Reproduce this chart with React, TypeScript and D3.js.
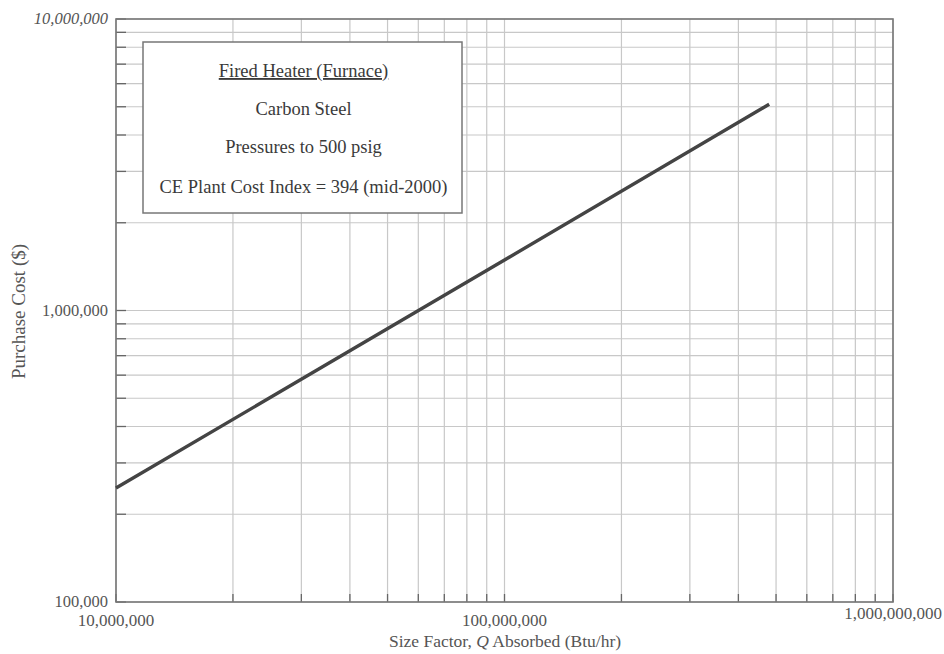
import React from "react";
import * as d3 from "d3";

const lineQ = [1e7, 1e8, 4.8e8];
const lineCost = [2.46e5, 1.49e6, 5.1e6];
const xTickLabels = ["10,000,000", "100,000,000", "1,000,000,000"];
const xTickValues = [1e7, 1e8, 1e9];
const yTickLabels = ["100,000", "1,000,000", "10,000,000"];
const yTickValues = [1e5, 1e6, 1e7];
const legendLines = ["Fired Heater (Furnace)", "Carbon Steel", "Pressures to 500 psig", "CE Plant Cost Index = 394 (mid-2000)"];

const W = 944, H = 654;
const L = 116, R = 893, T = 19, B = 602;
const FONT = "'Liberation Serif', 'DejaVu Serif', serif";

function minorTicks(lo: number, hi: number): number[] {
  const out: number[] = [];
  for (let d = lo; d < hi; d *= 10) {
    for (let k = 1; k <= 10; k++) out.push(d * k);
  }
  return Array.from(new Set(out));
}

export default function App() {
  const x = d3.scaleLog().domain([1e7, 1e9]).range([L, R]);
  const y = d3.scaleLog().domain([1e5, 1e7]).range([B, T]);
  const xs = minorTicks(1e7, 1e9);
  const ys = minorTicks(1e5, 1e7);
  const pts: [number, number][] = lineQ.map((q, i) => [q, lineCost[i]]);
  const path = d3.line<[number, number]>().x(d => x(d[0])).y(d => y(d[1]))(pts) || "";
  const textColor = "#555";
  const legendX = 143, legendY = 42, legendW = 319, legendH = 171;
  const legendCx = legendX + legendW / 2 + 1;
  const legendYs = [77, 115, 153, 193];
  return (
    <svg width={W} height={H} style={{ position: "absolute", left: 0, top: 0, background: "#fff" }} fontFamily={FONT}>
      <rect x={0} y={0} width={W} height={H} fill="#fff" />
      {xs.map((v, i) => (
        <line key={"gx" + i} x1={x(v)} x2={x(v)} y1={T} y2={B} stroke="#c8c8c8" strokeWidth={1.2} />
      ))}
      {ys.map((v, i) => (
        <line key={"gy" + i} x1={L} x2={R} y1={y(v)} y2={y(v)} stroke="#c8c8c8" strokeWidth={1.2} />
      ))}
      {xs.map((v, i) => (
        <line key={"tx" + i} x1={x(v)} x2={x(v)} y1={B} y2={B - 8} stroke="#666" strokeWidth={1.3} />
      ))}
      {ys.map((v, i) => (
        <line key={"ty" + i} x1={L} x2={L + 10} y1={y(v)} y2={y(v)} stroke="#666" strokeWidth={1.3} />
      ))}
      <rect x={L} y={T} width={R - L} height={B - T} fill="none" stroke="#777" strokeWidth={1.6} />
      <rect x={legendX} y={legendY} width={legendW} height={legendH} fill="#fff" stroke="#777" strokeWidth={1.5} />
      {legendLines.map((t, i) => (
        <text key={"lg" + i} x={legendCx} y={legendYs[i]} textAnchor="middle" fontSize={18.5} fill="#3a3a3a"
          textDecoration={i === 0 ? "underline" : undefined}>{t}</text>
      ))}
      <path d={path} fill="none" stroke="#444" strokeWidth={3.4} strokeLinecap="butt" />
      {yTickValues.map((v, i) => (
        <text key={"yl" + i} x={108} y={y(v) + 5} textAnchor="end" fontSize={16.5} fill={textColor}
          fontStyle={i === 2 ? "italic" : "normal"}>{yTickLabels[i]}</text>
      ))}
      {xTickValues.map((v, i) => (
        <text key={"xl" + i} x={x(v)} y={i === 2 ? 619 : 626} textAnchor="middle" fontSize={17} fill={textColor}>{xTickLabels[i]}</text>
      ))}
      <text x={0} y={0} transform={`translate(25, ${(T + B) / 2 + 1}) rotate(-90)`} textAnchor="middle" fontSize={19} fill={textColor}>Purchase Cost ($)</text>
      <text x={505} y={647} textAnchor="middle" fontSize={17.5} fill={textColor}>
        Size Factor, <tspan fontStyle="italic">Q</tspan> Absorbed (Btu/hr)
      </text>
    </svg>
  );
}
